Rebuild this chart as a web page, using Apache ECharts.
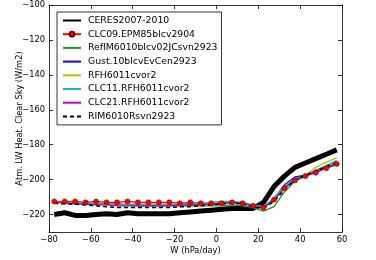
<!DOCTYPE html>
<html>
<head>
<meta charset="utf-8">
<script src="https://cdn.jsdelivr.net/npm/echarts@6/dist/echarts.min.js"></script>
<style>
  html, body { margin: 0; padding: 0; background: #fff; }
  #chart { width: 376px; height: 260px; }
</style>
</head>
<body>
<div id="chart"></div>
<script>
// bin centres of vertical velocity (hPa/day)
const wBins = [-77.5, -72.5, -67.5, -62.5, -57.5, -52.5, -47.5, -42.5, -37.5, -32.5, -27.5, -22.5, -17.5, -12.5,
  -7.5, -2.5, 2.5, 7.5, 12.5, 17.5, 22.5, 27.5, 32.5, 37.5, 42.5, 47.5, 52.5, 57.5];

const ceres = [-220, -219, -220.5, -220.5, -220, -219.5, -220, -219, -219.5, -219.5, -219.5, -219.5, -219, -218.5,
  -218, -217.5, -217, -216.5, -216.5, -216.5, -213, -204, -198, -193, -190.5, -188, -185.5, -183];
const clc09 = [-212.5, -212.5, -212.5, -213, -212.5, -213, -213, -212.5, -213, -213, -213, -213, -213.5, -213,
  -213.5, -213.5, -213.5, -213, -213.5, -215, -216, -211.5, -205, -200.5, -198, -196, -193.5, -191];
const refim = [-213, -213, -213.5, -213.5, -214, -214, -214.5, -214.5, -215, -215, -215, -215, -215, -215,
  -215, -215, -215, -214.5, -215, -216, -218, -215.5, -207, -201, -198, -195.5, -193.5, -191.5];
const gust = [-213, -213, -213.5, -213.5, -214, -214, -214, -214.5, -214.5, -214.5, -214.5, -214.5, -214.5, -214.5,
  -214, -214, -213.5, -213, -213.5, -215, -216, -211, -203, -198.5, -197.5, -195, -193, -190.5];
const rfh = [-213, -213, -213.5, -213.5, -214, -214, -214.5, -214.5, -214.5, -214.5, -214.5, -214.5, -214.5, -214,
  -214, -213.5, -213.5, -213, -213.5, -215, -215.5, -211, -204, -199.5, -197.5, -193, -190, -187.5];
const clc11 = [-213, -213, -213, -213.5, -213.5, -213.5, -214, -214, -214, -214, -214, -214, -214, -213.5,
  -213.5, -213, -212.5, -212.5, -213, -214.5, -215.5, -210.5, -204, -199.5, -197.5, -194.5, -192, -189];
const clc21 = [-213, -213.5, -214, -214, -214.5, -214.5, -215, -215, -215, -215, -215, -215, -214.5, -214.5,
  -214, -214, -213.5, -213, -213.5, -215, -216, -211.5, -205, -200, -198, -195.5, -193, -190.5];
const rim = [-213.5, -214, -214, -214.5, -215, -215.5, -216, -216, -216, -216, -216, -216, -215.5, -215.5,
  -215, -214.5, -214, -213.5, -214, -215.5, -216.5, -212.5, -206, -200, -197.5, -195, -192.5, -190];

const xTicks = [-80, -60, -40, -20, 0, 20, 40, 60];
const yTicks = [-220, -200, -180, -160, -140, -120, -100];
const yRange = [-230, -100];

const minus = v => (v < 0 ? '\u2212' + Math.abs(v) : String(v));
const pairs = arr => wBins.map((w, i) => [w, arr[i]]);

function line(name, data, color, extra) {
  return Object.assign({
    name: name,
    type: 'line',
    data: pairs(data),
    showSymbol: false,
    symbol: 'none',
    lineStyle: { color: color, width: 1.3 },
    itemStyle: { color: color },
    emphasis: { disabled: true },
    animation: false,
    z: 2
  }, extra || {});
}

const series = [
  line('CERES2007-2010', ceres, '#000000', { lineStyle: { color: '#000', width: 5 }, z: 1 }),
  line('CLC09.EPM85blcv2904', clc09, '#ff0000', {
    symbol: 'circle', showSymbol: true, symbolSize: 5,
    itemStyle: { color: '#ff0000', borderColor: '#800000', borderWidth: 0.6 }
  }),
  line('RefIM6010blcv02JCsvn2923', refim, '#1a9a1a'),
  line('Gust.10blcvEvCen2923', gust, '#0000ff'),
  line('RFH6011cvor2', rfh, '#bfbf00'),
  line('CLC11.RFH6011cvor2', clc11, '#00bfbf'),
  line('CLC21.RFH6011cvor2', clc21, '#bf00bf'),
  line('RIM6010Rsvn2923', rim, '#000000', { lineStyle: { color: '#000', width: 1.5, type: [4, 3] } })
];

const font = 'DejaVu Sans';
const tickStyle = { show: true, inside: true, length: 4, lineStyle: { color: '#000', width: 0.8 } };
const axisLine = { show: true, onZero: false, lineStyle: { color: '#000', width: 0.8 } };

const option = {
  animation: false,
  textStyle: { fontFamily: font },
  grid: { left: 49, right: 34, top: 5, bottom: 27 },
  legend: {
    orient: 'vertical',
    left: 57, top: 12,
    padding: [3, 4, 3, 5],
    borderColor: '#000', borderWidth: 0.8, borderRadius: 0,
    backgroundColor: '#fff',
    itemWidth: 18, itemHeight: 6, itemGap: 2.7,
    textStyle: { fontFamily: font, fontSize: 9.3, color: '#000', lineHeight: 11, padding: [0, 0, 0, 2] },
    data: series.map((s, i) => (i === 1 ? { name: s.name }
      : { name: s.name, itemStyle: { opacity: 0 } }))
  },
  xAxis: [{
    type: 'value', min: xTicks[0], max: xTicks[xTicks.length - 1], interval: 20,
    name: 'W (hPa/day)', nameLocation: 'middle', nameGap: 15, nameMoveOverlap: false,
    nameTextStyle: { fontFamily: font, fontSize: 8.3, color: '#000' },
    axisLine: axisLine,
    axisTick: tickStyle,
    axisLabel: { fontFamily: font, fontSize: 8.3, color: '#000', margin: 4, formatter: minus },
    splitLine: { show: false }
  }, {
    type: 'value', position: 'top', min: xTicks[0], max: xTicks[xTicks.length - 1], interval: 20,
    axisLine: axisLine,
    axisTick: tickStyle, axisLabel: { show: false }, splitLine: { show: false }
  }],
  yAxis: [{
    type: 'value', min: yRange[0], max: yRange[1],
    name: 'Atm. LW Heat. Clear Sky (W/m2)', nameLocation: 'middle', nameGap: 25, nameMoveOverlap: false,
    nameTextStyle: { fontFamily: font, fontSize: 8.3, color: '#000' },
    axisLine: axisLine,
    axisTick: Object.assign({ customValues: yTicks }, tickStyle),
    axisLabel: {
      fontFamily: font, fontSize: 8.3, color: '#000', margin: 4,
      customValues: yTicks, formatter: minus
    },
    splitLine: { show: false }
  }, {
    type: 'value', position: 'right', min: yRange[0], max: yRange[1],
    axisLine: axisLine,
    axisTick: Object.assign({ customValues: yTicks }, tickStyle),
    axisLabel: { show: false }, splitLine: { show: false }
  }],
  series: series
};

const chart = echarts.init(document.getElementById('chart'), null, { renderer: 'canvas' });
chart.setOption(option);
</script>
</body>
</html>
